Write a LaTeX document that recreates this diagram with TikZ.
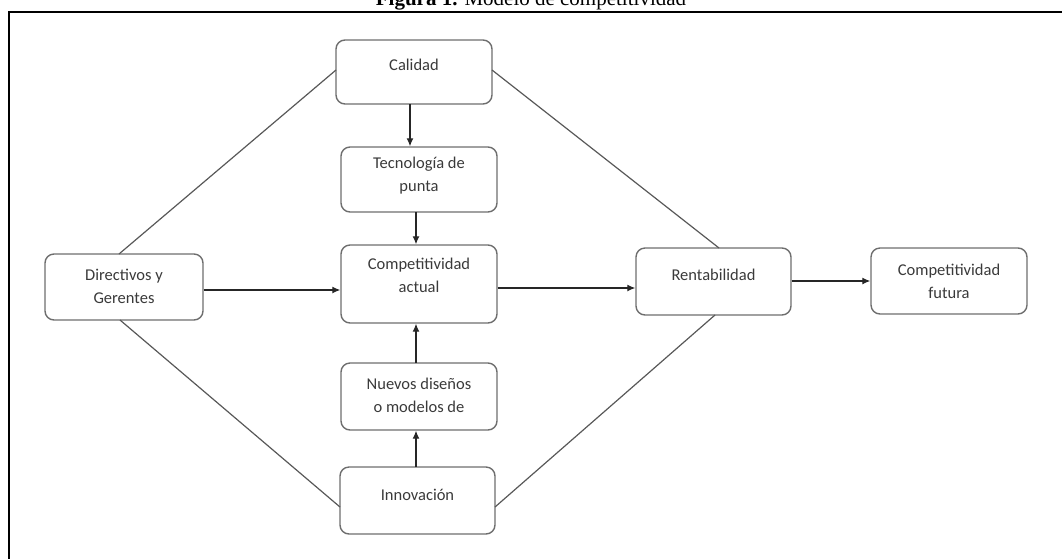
\documentclass[tikz,border=0pt]{standalone}
\usepackage{fontspec}
\setmainfont{Carlito}
\newfontfamily\titlefont{Liberation Serif}
\usetikzlibrary{arrows.meta}
\definecolor{boxline}{HTML}{6E6E6E}
\definecolor{boxtext}{HTML}{3A3A3A}
\tikzset{
  box/.style={draw=boxline, line width=1.4pt, rounded corners=9pt, fill=white, inner sep=0pt},
  txt/.style={text=boxtext, align=center, inner sep=0pt, font=\fontsize{16.5}{23}\selectfont},
  link/.style={draw=boxline!80!black, line width=1.2pt},
  arr/.style={draw=black!85, line width=1.2pt, -{Latex[length=8pt,width=7pt]}},
  frame/.style={draw=black, line width=2.6pt}
}
\begin{document}
\begin{tikzpicture}[x=1pt,y=-1pt]
\useasboundingbox (0,0) rectangle (1062,558);
% title (top clipped as in the reference)
\node[anchor=base, inner sep=0pt, font=\titlefont\fontsize{21}{24}\selectfont] (title) at (531,5) {\textbf{Figura 1.} Modelo de competitividad};
% frame (top and left edges)
\coordinate (fbl) at (9,560);
\coordinate (ftl) at (9,12);
\coordinate (ftr) at (1064,12);
\draw[frame] (fbl) -- (ftl) -- (ftr);
% boxes
\node[box, minimum width=156pt, minimum height=64pt] (cal) at (414,72) {};
\node[box, minimum width=156pt, minimum height=65pt] (tec) at (419,179.5) {};
\node[box, minimum width=158pt, minimum height=66pt] (dir) at (124,287) {};
\node[box, minimum width=156pt, minimum height=78pt] (act) at (419,284) {};
\node[box, minimum width=155pt, minimum height=67pt] (ren) at (713.5,281.5) {};
\node[box, minimum width=156pt, minimum height=66pt] (fut) at (949,281) {};
\node[box, minimum width=156pt, minimum height=67pt] (nue) at (419,396.5) {};
\node[box, minimum width=155pt, minimum height=67pt] (inn) at (417.5,500.5) {};
% texts
\node[txt] (calT) at (414,65) {Calidad};
\node[txt] (tecT) at (419,176) {Tecnología de\\punta};
\node[txt] (dirT) at (124,286) {Directivos y\\Gerentes};
\node[txt] (actT) at (419,275) {Competitividad\\actual};
\node[txt] (renT) at (713.5,275) {Rentabilidad};
\node[txt] (futT) at (949,281) {Competitividad\\futura};
\node[txt] (nueT) at (419,395) {Nuevos diseños\\o modelos de};
\node[txt] (innT) at (417.5,495) {Innovación};
% diagonal links
\coordinate (dirN) at (119,254);
\coordinate (dirS) at (120,320);
\coordinate (calW) at (336,70);
\coordinate (calE) at (492,70);
\coordinate (innW) at (340,507);
\coordinate (innE) at (495,507);
\coordinate (renN) at (719,248);
\coordinate (renS) at (715,315);
\draw[link] (dirN) -- (calW);
\draw[link] (dirS) -- (innW);
\draw[link] (calE) -- (renN);
\draw[link] (innE) -- (renS);
% arrows
\coordinate (calS) at (410,104);
\draw[arr] (calS) -- (calS |- tec.north);
\coordinate (tecS) at (416,212);
\draw[arr] (tecS) -- (tecS |- act.north);
\coordinate (nueN) at (416,363);
\draw[arr] (nueN) -- (nueN |- act.south);
\coordinate (innN) at (416,467);
\draw[arr] (innN) -- (innN |- nue.south);
\draw[arr] (dir.east |- 0,290) -- (act.west |- 0,290);
\draw[arr] (act.east |- 0,288) -- (ren.west |- 0,288);
\draw[arr] (ren.east |- 0,281) -- (fut.west |- 0,281);
\end{tikzpicture}
\end{document}
